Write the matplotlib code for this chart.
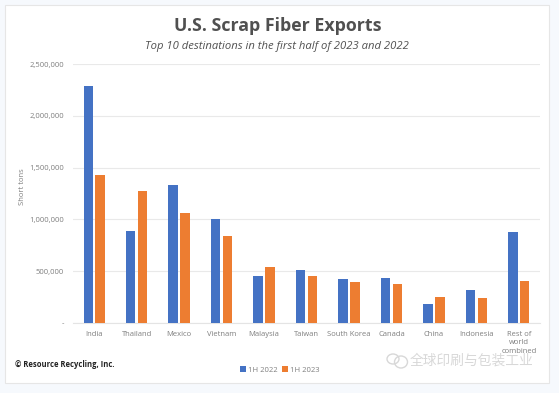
# -*- coding: utf-8 -*-
import numpy as np
import matplotlib
matplotlib.use('Agg')
import matplotlib.pyplot as plt
from matplotlib.patches import Rectangle, Ellipse

plt.rcParams['font.family'] = ['Open Sans', 'Noto Sans CJK SC', 'DejaVu Sans']

countries = ['India', 'Thailand', 'Mexico', 'Vietnam', 'Malaysia', 'Taiwan',
             'South Korea', 'Canada', 'China', 'Indonesia', 'Rest of\nworld\ncombined']
tons_2022 = [2288000, 885000, 1335000, 1005000, 450000, 510000,
             420000, 430000, 180000, 320000, 875000]
tons_2023 = [1430000, 1275000, 1065000, 835000, 540000, 455000,
             400000, 375000, 250000, 240000, 410000]
y_ticks = [0, 500000, 1000000, 1500000, 2000000, 2500000]
y_labels = ['-', '500,000', '1,000,000', '1,500,000', '2,000,000', '2,500,000']

W, H = 559, 393
BLUE = '#4472c4'
ORANGE = '#ed7d31'
GREY = '#7f7f7f'
MARK = '#d8d8d8'

fig = plt.figure(figsize=(W / 100, H / 100), dpi=100, facecolor='#f6f9fd')

# white card behind the chart
fig.add_artist(Rectangle((5 / W, 1 - 383 / H), 544 / W, 378 / H, transform=fig.transFigure,
                         facecolor='white', edgecolor='#e6e6e6', linewidth=0.8, zorder=-1))

ax = fig.add_axes([73 / W, 1 - 323 / H, 467 / W, 259 / H])
ax.patch.set_alpha(0)

x = np.arange(len(countries))
bar_w = 0.224
ax.bar(x - 0.14, tons_2022, bar_w, color=BLUE, label='1H 2022', zorder=3)
ax.bar(x + 0.14, tons_2023, bar_w, color=ORANGE, label='1H 2023', zorder=3)

ax.set_xlim(-0.5, len(countries) - 0.5)
ax.set_ylim(0, 2500000)
ax.set_yticks(y_ticks)
ax.set_yticklabels(y_labels, fontsize=5.5, color=GREY)
ax.set_xticks(x)
ax.set_xticklabels(countries, fontsize=5.5, color=GREY, linespacing=1.35)
ax.tick_params(length=0)
ax.tick_params(axis='y', pad=6.5)
ax.tick_params(axis='x', pad=5.5)
ax.grid(axis='y', color='#e9e9e9', linewidth=0.8, zorder=0)
for s in ['top', 'right', 'left']:
    ax.spines[s].set_visible(False)
ax.spines['bottom'].set_color('#e4e4e4')
ax.spines['bottom'].set_linewidth(0.8)


def px_text(px, py, s, **kw):
    fig.text(px / W, 1 - py / H, s, **kw)


px_text(278, 26, 'U.S. Scrap Fiber Exports', fontsize=12.8, fontweight='bold',
        color='#505050', ha='center', va='center')
px_text(277, 46, 'Top 10 destinations in the first half of 2023 and 2022', fontsize=8.1,
        style='italic', color='#505050', ha='center', va='center')
px_text(23, 187, 'Short tons', fontsize=5.5, color=GREY, rotation=90, ha='center', va='center')
px_text(15, 364.5, '© Resource Recycling, Inc.', fontsize=5.5, fontweight='bold',
        color='#222222', ha='left', va='center')

# watermark: chat icon and account name
px_text(410, 361, '全球印刷与包装工业', fontsize=9.9, color=MARK,
        ha='left', va='center', zorder=5)
for cx, cy, ew, eh in [(393, 359, 12, 10), (401, 362, 13, 12)]:
    fig.add_artist(Ellipse((cx / W, 1 - cy / H), ew / W, eh / H, transform=fig.transFigure,
                           facecolor='none', edgecolor=MARK, linewidth=1.0))

fig.legend(loc='center', bbox_to_anchor=(280 / W, 1 - 370 / H), ncol=2, frameon=False,
           fontsize=5.5, labelcolor=GREY, handlelength=0.7, handleheight=0.7,
           handletextpad=0.3, columnspacing=0.6)

fig.savefig('out.png', dpi=100, facecolor=fig.get_facecolor())
